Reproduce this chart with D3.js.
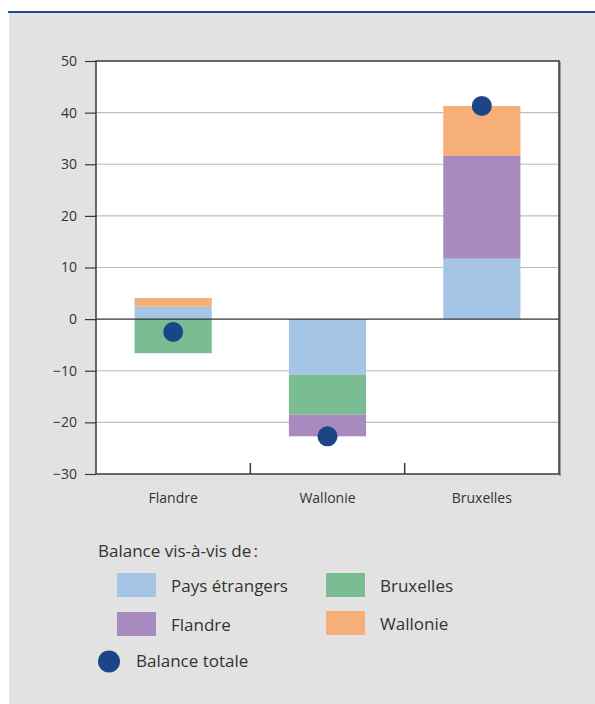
<!DOCTYPE html>
<html><head><meta charset="utf-8">
<script src="https://cdn.jsdelivr.net/npm/d3@7"></script>
<style>
html,body{margin:0;padding:0;background:#fff;}
svg{display:block;font-family:"Open Sans","Noto Sans",sans-serif;}
</style></head>
<body>
<svg id="c" width="595" height="704"></svg>
<script>
const categories = ["Flandre", "Wallonie", "Bruxelles"];
const seriesNames = ["Pays étrangers", "Flandre", "Bruxelles", "Wallonie"];
const paysEtrangers = [2.4, -10.8, 11.7];
const flandre = [0, -4.2, 19.9];
const bruxelles = [-6.6, -7.7, 0];
const wallonie = [1.7, 0, 9.7];
const balanceTotale = [-2.5, -22.7, 41.3];
const yTicks = [-30, -20, -10, 0, 10, 20, 30, 40, 50];
const legendTitle = "Balance vis-à-vis de\u202f:";
const totalLabel = "Balance totale";

const colors = {"Pays étrangers":"#a5c5e7","Flandre":"#a78bc0","Bruxelles":"#7bbd93","Wallonie":"#f6af79"};
const seriesData = {"Pays étrangers":paysEtrangers,"Flandre":flandre,"Bruxelles":bruxelles,"Wallonie":wallonie};
const stackOrder = ["Pays étrangers","Bruxelles","Flandre","Wallonie"];

const svg = d3.select("#c");
svg.append("rect").attr("x",9).attr("y",13).attr("width",586).attr("height",691).attr("fill","#e2e2e2");
svg.append("rect").attr("x",8).attr("y",11).attr("width",587).attr("height",2).attr("fill","#1f4e8f");

const L=96,R=559,T=61,B=474;
const x = d3.scaleBand().domain(categories).range([L,R]).paddingInner(0).paddingOuter(0);
const y = d3.scaleLinear().domain([-30,50]).range([B,T]);

// shadow on right
svg.append("rect").attr("x",R).attr("y",T+1).attr("width",2).attr("height",B-T+1).attr("fill","#9a9a9a");
svg.append("rect").attr("x",L).attr("y",T).attr("width",R-L).attr("height",B-T).attr("fill","#fff");

// gridlines
svg.append("g").selectAll("line").data(yTicks.filter(d=>d!==0&&d!==50&&d!==-30)).join("line")
  .attr("x1",L).attr("x2",R).attr("y1",d=>y(d)).attr("y2",d=>y(d))
  .attr("stroke","#bdbdbd").attr("stroke-width",1.2);

// stacked bars
const barW = x.bandwidth()*0.5;
categories.forEach((c,i)=>{
  let pos=0, neg=0;
  stackOrder.forEach(s=>{
    const v = seriesData[s][i];
    if(!v) return;
    let y0,y1;
    if(v>0){y0=pos;y1=pos+v;pos=y1;} else {y0=neg;y1=neg+v;neg=y1;}
    svg.append("rect")
      .attr("x",x(c)+x.bandwidth()/2-barW/2).attr("width",barW)
      .attr("y",y(Math.max(y0,y1))).attr("height",Math.abs(y(y0)-y(y1)))
      .attr("fill",colors[s]);
  });
});

// zero line
svg.append("line").attr("x1",L).attr("x2",R).attr("y1",y(0)).attr("y2",y(0)).attr("stroke","#333").attr("stroke-width",1.2);

// frame
svg.append("rect").attr("x",L).attr("y",T).attr("width",R-L).attr("height",B-T)
  .attr("fill","none").attr("stroke","#3a3a3a").attr("stroke-width",1.5);

// y axis
const yAxis = d3.axisLeft(y).tickValues(yTicks).tickSize(11).tickPadding(8)
  .tickFormat(d=>d<0?"\u2212"+Math.abs(d):d);
const ga = svg.append("g").attr("transform",`translate(${L},0)`).call(yAxis);
ga.select(".domain").remove();
ga.selectAll(".tick line").attr("stroke","#3a3a3a").attr("stroke-width",1.2);
ga.selectAll(".tick text").attr("font-size",14).attr("fill","#333").attr("font-family","'Open Sans',sans-serif");

// category separators
svg.append("g").selectAll("line").data(categories.slice(1)).join("line")
  .attr("x1",d=>x(d)).attr("x2",d=>x(d)).attr("y1",B).attr("y2",B-11)
  .attr("stroke","#3a3a3a").attr("stroke-width",1.5);

// x labels
svg.append("g").selectAll("text").data(categories).join("text")
  .attr("x",d=>x(d)+x.bandwidth()/2).attr("y",503).attr("text-anchor","middle")
  .attr("font-size",14).attr("fill","#333").text(d=>d);

// totals
svg.append("g").selectAll("circle").data(categories).join("circle")
  .attr("cx",d=>x(d)+x.bandwidth()/2).attr("cy",(d,i)=>y(balanceTotale[i])).attr("r",10)
  .attr("fill","#1c4587");

// legend
const lg = svg.append("g");
lg.append("text").attr("x",98).attr("y",557).attr("font-size",17).attr("fill","#333").text(legendTitle);
const legItems = [
  {name:"Pays étrangers",sx:117,ty:573},
  {name:"Bruxelles",sx:326,ty:573},
  {name:"Flandre",sx:117,ty:612},
  {name:"Wallonie",sx:326,ty:611}
];
legItems.forEach(it=>{
  lg.append("rect").attr("x",it.sx).attr("y",it.ty).attr("width",39).attr("height",24).attr("fill",colors[it.name]);
  lg.append("text").attr("x",it.sx+54).attr("y",it.ty+19).attr("font-size",17).attr("fill","#333").text(it.name);
});
lg.append("circle").attr("cx",109).attr("cy",661.5).attr("r",11).attr("fill","#1c4587");
lg.append("text").attr("x",136).attr("y",667).attr("font-size",17).attr("fill","#333").text(totalLabel);
</script>
</body></html>
